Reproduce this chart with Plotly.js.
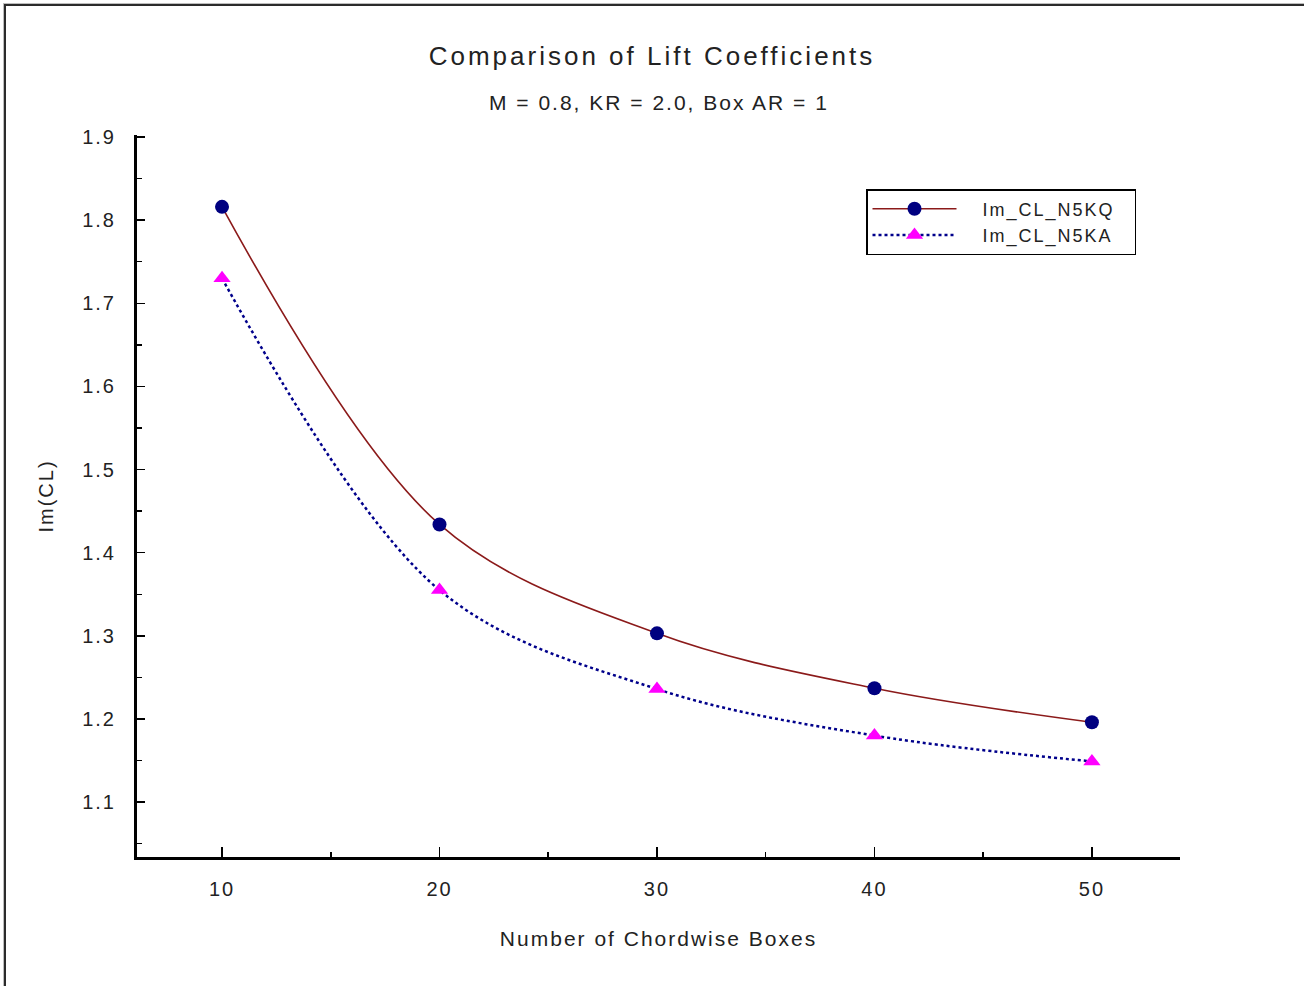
<!DOCTYPE html>
<html>
<head>
<meta charset="utf-8">
<script src="https://cdn.plot.ly/plotly-3.0.1.min.js"></script>
<style>
  html, body { margin: 0; padding: 0; background: #fff; }
  #wrap { position: relative; width: 1304px; height: 986px; overflow: hidden; }
  #plot { width: 1304px; height: 986px; }
  #frame { position: absolute; left: 4px; top: 4px; width: 1400px; height: 1100px;
           border-top: 2px solid #2b2b2b; border-left: 2px solid #2b2b2b;
           box-shadow: -1px -1px 0 #bdbdbd; pointer-events: none; }
  svg text { letter-spacing: 2px; }
  svg text.gtitle { letter-spacing: 3px; }
</style>
</head>
<body>
<div id="wrap">
  <div id="plot"></div>
  <div id="frame"></div>
</div>
<script>
// Data
const chordwiseBoxes = [10, 20, 30, 40, 50];
const imCL_N5KQ = [1.816, 1.434, 1.303, 1.237, 1.196];
const imCL_N5KA = [1.730, 1.355, 1.236, 1.180, 1.149];
const seriesNames = ['Im_CL_N5KQ', 'Im_CL_N5KA'];
const yTickVals = [1.1, 1.2, 1.3, 1.4, 1.5, 1.6, 1.7, 1.8, 1.9];
const xTickVals = [10, 20, 30, 40, 50];

const FONT = 'Liberation Sans, Arial, sans-serif';
const INK = '#222222';
const PAD = '\u00a0\u00a0\u00a0';
const TAIL = '\u00a0\u00a0';

const traces = [
  {
    x: chordwiseBoxes, y: imCL_N5KQ, name: PAD + seriesNames[0] + TAIL,
    type: 'scatter', mode: 'lines+markers',
    line: { color: '#8b1a1a', width: 1.6, shape: 'spline', smoothing: 1 },
    marker: { symbol: 'circle', size: 14, color: '#000080' }
  },
  {
    x: chordwiseBoxes, y: imCL_N5KA, name: PAD + seriesNames[1] + TAIL,
    type: 'scatter', mode: 'lines+markers',
    line: { color: '#00008b', width: 2.5, dash: 'dot', shape: 'spline', smoothing: 1 },
    marker: { symbol: 'triangle-up', size: 15, color: '#ff00ff' }
  }
];

const layout = {
  width: 1304, height: 986,
  paper_bgcolor: '#ffffff', plot_bgcolor: '#ffffff',
  margin: { l: 137, r: 124, t: 135, b: 129, pad: 0 },
  font: { family: FONT, color: INK, size: 18 },
  showlegend: true,
  title: {
    text: 'Comparison of Lift Coefficients',
    font: { family: FONT, size: 26, color: INK },
    x: 0.5, xref: 'container', xanchor: 'center',
    y: 1 - 56 / 986, yref: 'container', yanchor: 'middle'
  },
  annotations: [
    {
      text: 'M = 0.8, KR = 2.0, Box AR = 1',
      xref: 'paper', yref: 'paper',
      x: 0.5, y: (857 - 103) / 722, xanchor: 'center', yanchor: 'middle',
      showarrow: false, font: { family: FONT, size: 21, color: INK }
    }
  ],
  xaxis: {
    range: [6.09, 54.05],
    tickvals: xTickVals, ticktext: xTickVals.map(String),
    ticks: 'inside', ticklen: 10, tickwidth: 1.5, tickcolor: '#000',
    minor: { tickvals: [5, 15, 25, 35, 45], ticks: 'inside', ticklen: 5, tickwidth: 1.5, tickcolor: '#000' },
    showline: true, linecolor: '#000', linewidth: 3, mirror: false,
    showgrid: false, zeroline: false,
    ticklabelstandoff: 12,
    tickfont: { family: FONT, size: 20, color: INK },
    title: { text: 'Number of Chordwise Boxes', standoff: 33, font: { family: FONT, size: 21, color: INK } }
  },
  yaxis: {
    range: [1.034, 1.9024],
    tickvals: yTickVals, ticktext: yTickVals.map(v => v.toFixed(1)),
    ticks: 'inside', ticklen: 8, tickwidth: 1.5, tickcolor: '#000',
    minor: { tickvals: [1.05, 1.15, 1.25, 1.35, 1.45, 1.55, 1.65, 1.75, 1.85], ticks: 'inside', ticklen: 5, tickwidth: 1.5, tickcolor: '#000' },
    showline: true, linecolor: '#000', linewidth: 3, mirror: false,
    showgrid: false, zeroline: false,
    ticklabelstandoff: 14,
    tickfont: { family: FONT, size: 20, color: INK },
    title: { text: 'Im(CL)', standoff: 24, font: { family: FONT, size: 20, color: INK } }
  },
  legend: {
    x: (866 - 137) / 1043, y: (857 - 189) / 722,
    xanchor: 'left', yanchor: 'top',
    bgcolor: '#ffffff', bordercolor: '#000', borderwidth: 1.5,
    font: { family: FONT, size: 18, color: INK },
    itemwidth: 84, tracegroupgap: 0
  }
};

Plotly.newPlot('plot', traces, layout, { staticPlot: true, displayModeBar: false });
</script>
</body>
</html>
